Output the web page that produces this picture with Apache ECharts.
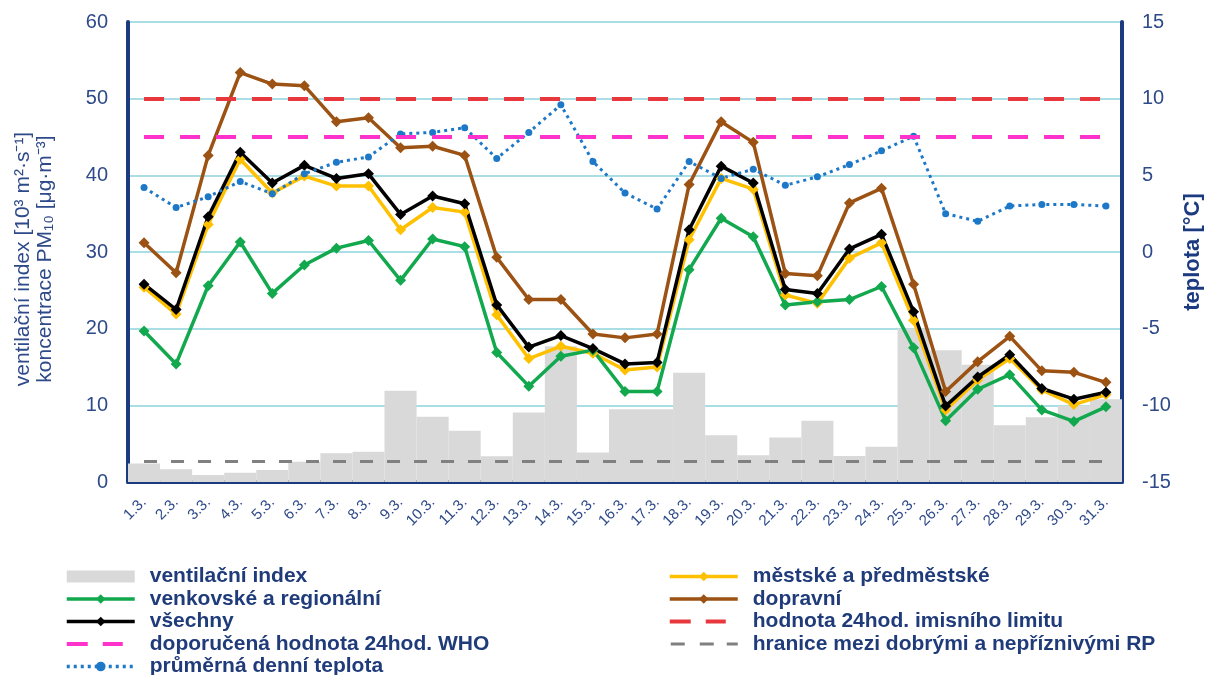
<!DOCTYPE html>
<html lang="cs">
<head>
<meta charset="UTF-8">
<title>PM10 a ventilační index - březen</title>
<script src="https://cdn.jsdelivr.net/npm/echarts@6/dist/echarts.min.js"></script>
<style>html,body{margin:0;padding:0;background:#fff;}</style>
</head>
<body>
<div id="main" style="width:1205px;height:675px;"></div>
<script type="text/javascript">
// dny v březnu
var days = ['1.3.', '2.3.', '3.3.', '4.3.', '5.3.', '6.3.', '7.3.', '8.3.', '9.3.', '10.3.',
    '11.3.', '12.3.', '13.3.', '14.3.', '15.3.', '16.3.', '17.3.', '18.3.', '19.3.', '20.3.',
    '21.3.', '22.3.', '23.3.', '24.3.', '25.3.', '26.3.', '27.3.', '28.3.', '29.3.', '30.3.', '31.3.'];

// ventilační index [10^3 m2/s]
var ventIndex = [2.4, 1.65, 0.9, 1.2, 1.55, 2.65, 3.75, 3.95, 11.9, 8.5, 6.7, 3.35, 9.05, 17.7, 3.85, 9.5,
    9.5, 14.25, 6.1, 3.5, 5.8, 8.0, 3.4, 4.6, 20.0, 17.2, 15.3, 7.4, 8.45, 9.95, 10.8];

// koncentrace PM10 podle typu stanic [ug/m3]
var mestske = [25.4, 21.9, 33.6, 42.1, 37.7, 39.9, 38.6, 38.6, 32.9, 35.8, 35.2, 21.8, 16.1, 17.7, 16.8, 14.6,
    15.0, 31.6, 39.6, 38.2, 24.4, 23.3, 29.2, 31.2, 21.1, 9.4, 13.3, 16.1, 12.0, 10.1, 11.4];
var venkovske = [19.7, 15.4, 25.6, 31.3, 24.6, 28.3, 30.5, 31.5, 26.3, 31.7, 30.7, 16.9, 12.5, 16.4, 17.2, 11.8,
    11.8, 27.7, 34.4, 32.0, 23.1, 23.5, 23.8, 25.5, 17.5, 8.0, 12.1, 14.0, 9.4, 7.9, 9.8];
var dopravni = [31.2, 27.3, 42.6, 53.4, 51.9, 51.7, 47.0, 47.5, 43.6, 43.8, 42.6, 29.3, 23.8, 23.8, 19.3, 18.8,
    19.3, 38.8, 47.0, 44.3, 27.2, 26.9, 36.4, 38.3, 25.8, 11.8, 15.7, 19.0, 14.5, 14.3, 13.0];
var vsechny = [25.8, 22.5, 34.6, 43.0, 39.0, 41.3, 39.6, 40.2, 34.9, 37.3, 36.3, 23.1, 17.6, 19.1, 17.4, 15.4,
    15.6, 32.9, 41.2, 39.0, 25.1, 24.6, 30.4, 32.3, 22.2, 9.9, 13.7, 16.6, 12.2, 10.8, 11.7];

// průměrná denní teplota [°C]
var teplota = [4.2, 2.9, 3.6, 4.6, 3.8, 5.1, 5.85, 6.2, 7.7, 7.8, 8.1, 6.1, 7.8, 9.6, 5.9, 3.85,
    2.8, 5.9, 4.8, 5.4, 4.35, 4.9, 5.7, 6.6, 7.55, 2.5, 2.0, 3.0, 3.1, 3.1, 3.0];

// limity
var limit24h = 50;
var who24h = 45;
var hraniceRP = 2.75;

var navy = '#1B3A80';
var labelColor = '#2E4A8A';
var font = '"Liberation Sans", Arial, sans-serif';

// ikony legendy pro čárkované čáry (68x12)
var iconDash = 'path://M0,0h0.01v0.01h-0.01z M67.99,11.99h0.01v0.01h-0.01z M0,4h21v4h-21z M36,4h20v4h-20z';
var iconDashGrey = 'path://M0,0h0.01v0.01h-0.01z M67.99,11.99h0.01v0.01h-0.01z M1,4.5h14v3h-14z M30,4.5h14v3h-14z M57,4.5h11v3h-11z';

var myChart = echarts.init(document.getElementById('main'));

// čára přes celé období
function hLine(name, value, color, width, dash) {
    return {
        name: name,
        type: 'line',
        yAxisIndex: 0,
        data: [],
        symbol: 'none',
        itemStyle: { color: color },
        lineStyle: { color: color, width: width, type: dash },
        markLine: {
            silent: true,
            symbol: 'none',
            label: { show: false },
            lineStyle: { color: color, width: width, type: dash },
            data: [[{ coord: [0, value] }, { coord: [days.length - 1, value] }]]
        }
    };
}

function pmLine(name, data, color) {
    return {
        name: name,
        type: 'line',
        yAxisIndex: 0,
        data: data,
        symbol: 'diamond',
        symbolSize: 11,
        itemStyle: { color: color },
        lineStyle: { color: color, width: 3.5 }
    };
}

var legendText = { color: '#1F3B7A', fontSize: 21, fontWeight: 'bold', fontFamily: font, lineHeight: 20, padding: [0, 0, 0, 10] };

myChart.setOption({
    animation: false,
    grid: { left: 128, right: 83, top: 22, bottom: 193, outerBoundsMode: 'none' },
    legend: [{
        orient: 'vertical',
        left: 60,
        top: 561,
        height: 130,
        itemWidth: 68,
        itemHeight: 12,
        itemGap: 1.5,
        lineStyle: { width: 3.5 },
        textStyle: legendText,
        data: [
            { name: 'ventilační index', icon: 'rect' },
            'venkovské a regionální',
            'všechny',
            { name: 'doporučená hodnota 24hod. WHO', icon: iconDash },
            'průměrná denní teplota'
        ]
    }, {
        orient: 'vertical',
        left: 663,
        top: 561,
        height: 130,
        itemWidth: 68,
        itemHeight: 12,
        itemGap: 1.5,
        lineStyle: { width: 3.5 },
        textStyle: legendText,
        data: [
            'městské a předměstské',
            'dopravní',
            { name: 'hodnota 24hod. imisního limitu', icon: iconDash },
            { name: 'hranice mezi dobrými a nepříznivými RP', icon: iconDashGrey }
        ]
    }],
    xAxis: {
        type: 'category',
        data: days,
        boundaryGap: true,
        axisLine: { lineStyle: { color: navy, width: 4 } },
        axisTick: { show: false },
        axisLabel: { rotate: 45, interval: 0, margin: 18, fontSize: 15, color: labelColor, fontFamily: font }
    },
    yAxis: [{
        type: 'value',
        min: 0,
        max: 60,
        interval: 10,
        name: 'ventilační index [10³ m²·s⁻¹]\nkoncentrace PM₁₀ [μg·m⁻³]',
        nameLocation: 'middle',
        nameRotate: 90,
        nameGap: 72,
        nameTextStyle: { color: labelColor, fontSize: 21, fontFamily: font, lineHeight: 22, padding: [0, 14, 0, 0] },
        axisLine: { show: true, lineStyle: { color: navy, width: 4 } },
        axisTick: { show: false },
        axisLabel: { margin: 20, fontSize: 20, color: labelColor, fontFamily: font },
        splitLine: { lineStyle: { color: '#8ED3DC', width: 1.5 } }
    }, {
        type: 'value',
        min: -15,
        max: 15,
        interval: 5,
        position: 'right',
        name: 'teplota [°C]',
        nameLocation: 'middle',
        nameRotate: 90,
        nameGap: 58,
        nameTextStyle: { color: navy, fontSize: 22, fontWeight: 'bold', fontFamily: font },
        axisLine: { show: true, lineStyle: { color: navy, width: 4 } },
        axisTick: { show: false },
        axisLabel: { margin: 20, fontSize: 20, color: labelColor, fontFamily: font },
        splitLine: { show: false }
    }],
    series: [{
        name: 'ventilační index',
        type: 'bar',
        yAxisIndex: 0,
        data: ventIndex,
        barWidth: '100%',
        barCategoryGap: 0,
        itemStyle: { color: '#D9D9D9' }
    },
    pmLine('městské a předměstské', mestske, '#FFC000'),
    pmLine('venkovské a regionální', venkovske, '#12A84E'),
    pmLine('dopravní', dopravni, '#9C5213'),
    pmLine('všechny', vsechny, '#000000'),
    hLine('hodnota 24hod. imisního limitu', limit24h, '#E8383D', 4, [20, 16]),
    hLine('doporučená hodnota 24hod. WHO', who24h, '#FF33CC', 4, [20, 16]),
    hLine('hranice mezi dobrými a nepříznivými RP', hraniceRP, '#808080', 3, [13, 14]),
    {
        name: 'průměrná denní teplota',
        type: 'line',
        yAxisIndex: 1,
        data: teplota,
        symbol: 'circle',
        symbolSize: 7,
        itemStyle: { color: '#1E78C8' },
        lineStyle: { color: '#1E78C8', width: 3, type: [3, 4] }
    }]
});
</script>
</body>
</html>
